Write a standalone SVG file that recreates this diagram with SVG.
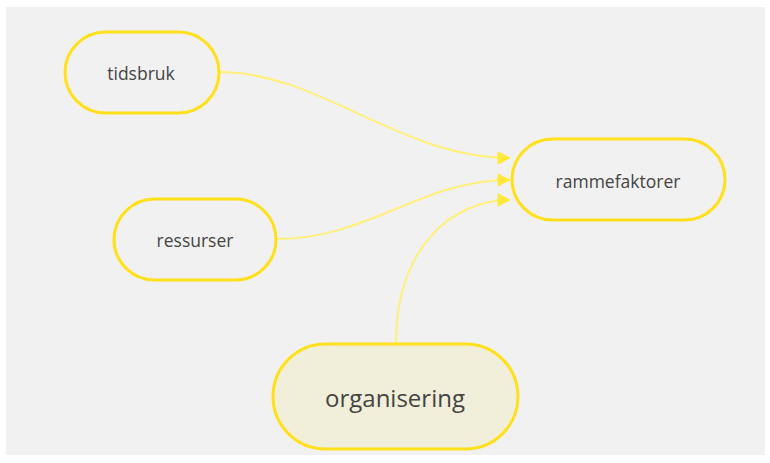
<svg xmlns="http://www.w3.org/2000/svg" width="770" height="463" viewBox="0 0 770 463">
  <style>
    .node rect { stroke: #ffe01b; stroke-width: 3; }
    .plain rect { fill: #f1f1f1; }
    .main rect { fill: #f1efd9; }
    .node text { font-family: "Open Sans", "Liberation Sans", sans-serif; fill: #444; text-anchor: middle; dominant-baseline: central; }
    .edge { fill: none; stroke: #fff07a; stroke-width: 2; }
  </style>
  <defs>
    <marker id="arrow" markerWidth="14" markerHeight="14" refX="13" refY="7" orient="auto" markerUnits="userSpaceOnUse">
      <path d="M1,1 L13,7 L1,13 Z" fill="#ffe83a" stroke="#ffe83a" stroke-width="1" stroke-linejoin="round"/>
    </marker>
  </defs>
  <rect x="0" y="0" width="770" height="463" fill="#ffffff"/>
  <rect x="6" y="7" width="759" height="448" fill="#f1f1f1"/>

  <g id="connectors">
    <path class="edge" d="M219,72 C320,72 400,158 510,158" marker-end="url(#arrow)"/>
    <path class="edge" d="M276,239 C370,239 420,180 510,180" marker-end="url(#arrow)"/>
    <path class="edge" d="M396,343 C396,250 450,200 510,200" marker-end="url(#arrow)"/>
  </g>

  <g id="tidsbruk" class="node plain">
    <rect x="65" y="32" width="154" height="81" rx="40.5"/>
    <text x="141" y="73" font-size="17.5">tidsbruk</text>
  </g>
  <g id="ressurser" class="node plain">
    <rect x="114" y="199" width="162" height="81" rx="40.5"/>
    <text x="195" y="240" font-size="17.5">ressurser</text>
  </g>
  <g id="rammefaktorer" class="node plain">
    <rect x="512" y="139" width="213" height="81" rx="40.5"/>
    <text x="618" y="181" font-size="17.5">rammefaktorer</text>
  </g>
  <g id="organisering" class="node main">
    <rect x="273" y="344" width="245" height="105" rx="52.5"/>
    <text x="395" y="397" font-size="24">organisering</text>
  </g>
</svg>
